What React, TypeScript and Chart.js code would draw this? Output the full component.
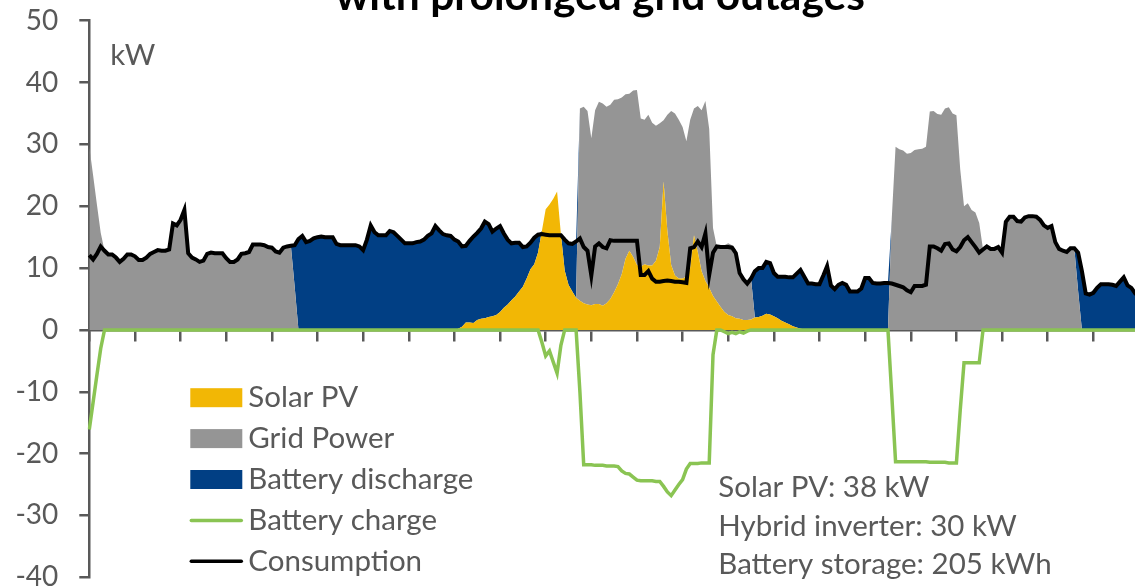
import React, { useEffect, useRef } from "react";
import { Chart, registerables } from "chart.js";

Chart.register(...registerables);

// 5-minute steps over one day (289 points, 00:00 .. 24:00)
const timeLabels: string[] = [];
for (let h = 0; h <= 24; h++) {
  for (let m = 0; m < 60; m += 5) {
    if (h === 24 && m > 0) break;
    timeLabels.push(`${h}:${m < 10 ? "0" + m : m}`);
  }
}

const consumption: number[] = [
  12.1, 11.4, 12.3, 13.5, 12.8, 12.2, 12.2, 11.7, 11.0, 11.5, 12.2, 12.2,
  11.9, 11.3, 11.3, 11.7, 12.3, 12.6, 12.9, 12.8, 12.8, 13.0, 17.2, 16.9,
  17.8, 19.4, 12.4, 11.7, 11.4, 11.0, 11.2, 12.3, 12.5, 12.4, 12.4, 12.4,
  11.6, 11.0, 11.0, 11.4, 12.3, 12.4, 12.6, 13.8, 13.8, 13.8, 13.7, 13.4,
  13.3, 12.7, 12.5, 13.3, 13.5, 13.6, 13.7, 14.7, 15.2, 14.2, 14.4, 14.8,
  15.0, 15.1, 15.0, 15.0, 15.0, 13.9, 13.7, 13.7, 13.7, 13.7, 13.7, 13.5,
  12.9, 14.6, 16.9, 15.8, 15.3, 15.3, 15.3, 16.0, 15.8, 15.2, 14.6, 14.0,
  14.0, 14.0, 14.2, 14.3, 14.6, 15.2, 15.6, 16.8, 16.1, 15.5, 15.3, 15.2,
  14.6, 14.3, 13.5, 13.6, 14.4, 15.1, 15.7, 16.4, 17.5, 17.1, 15.9, 16.4,
  16.8, 15.6, 14.6, 14.0, 14.1, 14.1, 13.4, 13.5, 14.1, 14.9, 15.4, 15.5,
  15.4, 15.3, 15.3, 15.3, 15.3, 14.6, 14.0, 13.9, 14.3, 14.8, 13.4, 12.8,
  8.8, 13.5, 14.0, 13.4, 13.2, 14.5, 14.4, 14.4, 14.4, 14.4, 14.4, 14.4,
  14.4, 8.9, 8.9, 9.5, 8.3, 7.8, 7.8, 7.9, 8.0, 7.9, 7.8, 7.8,
  7.7, 7.6, 13.2, 13.4, 14.3, 13.4, 15.6, 8.9, 12.5, 13.5, 13.4, 13.4,
  13.4, 13.3, 12.4, 9.2, 8.2, 7.5, 8.3, 9.5, 10.0, 10.0, 11.0, 10.8,
  9.2, 8.6, 8.6, 8.6, 8.5, 8.5, 9.1, 9.7, 8.6, 7.5, 7.5, 7.4,
  7.4, 8.8, 10.3, 7.2, 6.6, 7.3, 7.6, 7.3, 6.2, 6.2, 6.2, 6.7,
  8.4, 8.4, 7.6, 7.5, 7.5, 7.6, 7.6, 7.5, 7.3, 7.1, 6.9, 6.4,
  6.1, 7.1, 7.1, 7.1, 7.3, 13.5, 13.5, 13.2, 12.8, 13.9, 14.0, 13.0,
  12.7, 13.4, 14.5, 15.0, 14.2, 13.4, 12.5, 13.0, 13.5, 13.1, 13.1, 13.4,
  12.5, 17.5, 18.3, 18.3, 17.6, 17.5, 18.2, 18.4, 18.4, 18.3, 17.8, 16.9,
  16.5, 16.8, 14.2, 13.1, 12.8, 12.6, 13.2, 13.2, 12.5, 9.5, 5.9, 5.7,
  6.0, 6.8, 7.4, 7.4, 7.4, 7.3, 7.1, 7.8, 8.5, 7.2, 6.8, 5.9,
  6.0, 6.3, 6.5, 6.8, 7.0, 6.9, 6.7, 6.6, 6.8, 7.0, 6.9, 6.8,
  6.7,
];

const solarPV: number[] = [
  0, 0, 0, 0, 0, 0, 0, 0, 0, 0, 0, 0,
  0, 0, 0, 0, 0, 0, 0, 0, 0, 0, 0, 0,
  0, 0, 0, 0, 0, 0, 0, 0, 0, 0, 0, 0,
  0, 0, 0, 0, 0, 0, 0, 0, 0, 0, 0, 0,
  0, 0, 0, 0, 0, 0, 0, 0, 0, 0, 0, 0,
  0, 0, 0, 0, 0, 0, 0, 0, 0, 0, 0, 0,
  0, 0, 0, 0, 0, 0, 0, 0, 0, 0, 0, 0,
  0, 0, 0, 0, 0, 0, 0, 0, 0, 0, 0, 0,
  0.0, 0.2, 0.5, 1.2, 1.2, 1.1, 1.6, 1.8, 1.9, 2.1, 2.2, 2.4,
  2.9, 3.6, 4.1, 4.8, 5.4, 6.2, 7.0, 8.3, 9.8, 10.6, 12.5, 16.0,
  19.5, 20.3, 21.2, 22.4, 15.5, 9.6, 7.3, 6.2, 5.2, 4.7, 4.3, 4.1,
  4.0, 4.2, 4.2, 3.9, 4.3, 5.0, 6.1, 7.4, 9.0, 11.5, 12.8, 11.8,
  10.5, 10.2, 10.6, 10.4, 10.4, 11.2, 13.4, 24.0, 16.0, 10.5, 8.8, 8.3,
  8.3, 8.6, 10.0, 15.3, 12.6, 9.5, 7.9, 6.8, 5.5, 4.6, 3.7, 2.9,
  2.4, 2.2, 1.9, 1.8, 1.6, 1.6, 1.7, 2.0, 2.1, 2.3, 2.6, 2.5,
  2.2, 1.9, 1.5, 1.2, 0.9, 0.6, 0.4, 0.2, 0.1, 0, 0, 0,
  0, 0, 0, 0, 0, 0, 0, 0, 0, 0, 0, 0,
  0, 0, 0, 0, 0, 0, 0, 0, 0, 0, 0, 0,
  0, 0, 0, 0, 0, 0, 0, 0, 0, 0, 0, 0,
  0, 0, 0, 0, 0, 0, 0, 0, 0, 0, 0, 0,
  0, 0, 0, 0, 0, 0, 0, 0, 0, 0, 0, 0,
  0, 0, 0, 0, 0, 0, 0, 0, 0, 0, 0, 0,
  0, 0, 0, 0, 0, 0, 0, 0, 0, 0, 0, 0,
  0, 0, 0, 0, 0, 0, 0, 0, 0, 0, 0, 0,
  0,
];

const gridPower: number[] = [
  29.6, 25.0, 20.3, 15.7, 12.8, 12.2, 12.2, 11.7, 11.0, 11.5, 12.2, 12.2,
  11.9, 11.3, 11.3, 11.7, 12.3, 12.6, 12.9, 12.8, 12.8, 13.0, 17.2, 16.9,
  17.8, 19.4, 12.4, 11.7, 11.4, 11.0, 11.2, 12.3, 12.5, 12.4, 12.4, 12.4,
  11.6, 11.0, 11.0, 11.4, 12.3, 12.4, 12.6, 13.8, 13.8, 13.8, 13.7, 13.4,
  13.3, 12.7, 12.5, 13.3, 13.5, 13.6, 7.0, 0, 0, 0, 0, 0,
  0, 0, 0, 0, 0, 0, 0, 0, 0, 0, 0, 0,
  0, 0, 0, 0, 0, 0, 0, 0, 0, 0, 0, 0,
  0, 0, 0, 0, 0, 0, 0, 0, 0, 0, 0, 0,
  0, 0, 0, 0, 0, 0, 0, 0, 0, 0, 0, 0,
  0, 0, 0, 0, 0, 0, 0, 0, 0, 0, 0, 0,
  0, 0, 0, 0, 0, 0, 0, 0, 0, 31.1, 31.8, 31.3,
  27.0, 31.3, 32.7, 32.7, 31.8, 31.4, 31.1, 29.9, 28.6, 26.6, 25.4, 26.9,
  28.3, 24.0, 23.4, 24.4, 23.1, 21.8, 20.0, 9.9, 18.8, 24.9, 26.2, 25.7,
  24.5, 21.9, 24.0, 20.5, 23.6, 26.0, 29.1, 25.7, 11.0, 8.9, 9.7, 10.8,
  11.6, 11.5, 11.1, 7.7, 7.1, 6.1, 6.6, 0, 0, 0, 0, 0,
  0, 0, 0, 0, 0, 0, 0, 0, 0, 0, 0, 0,
  0, 0, 0, 0, 0, 0, 0, 0, 0, 0, 0, 0,
  0, 0, 0, 0, 0, 0, 0, 18.0, 29.6, 29.2, 29.0, 28.5,
  28.6, 29.1, 29.2, 29.3, 29.6, 35.3, 35.4, 34.9, 34.8, 35.8, 36.0, 35.0,
  34.7, 26.0, 20.0, 20.5, 19.4, 19.0, 17.3, 13.0, 13.5, 13.1, 13.1, 13.4,
  12.5, 17.5, 18.3, 18.3, 17.6, 17.5, 18.2, 18.4, 18.4, 18.3, 17.8, 16.9,
  16.5, 16.8, 14.2, 13.1, 12.8, 12.6, 13.2, 13.2, 6.3, 0, 0, 0,
  0, 0, 0, 0, 0, 0, 0, 0, 0, 0, 0, 0,
  0, 0, 0, 0, 0, 0, 0, 0, 0, 0, 0, 0,
  0,
];

const batteryDischarge: number[] = [
  0, 0, 0, 0, 0, 0, 0, 0, 0, 0, 0, 0,
  0, 0, 0, 0, 0, 0, 0, 0, 0, 0, 0, 0,
  0, 0, 0, 0, 0, 0, 0, 0, 0, 0, 0, 0,
  0, 0, 0, 0, 0, 0, 0, 0, 0, 0, 0, 0,
  0, 0, 0, 0, 0, 0, 6.7, 14.7, 15.2, 14.2, 14.4, 14.8,
  15.0, 15.1, 15.0, 15.0, 15.0, 13.9, 13.7, 13.7, 13.7, 13.7, 13.7, 13.5,
  12.9, 14.6, 16.9, 15.8, 15.3, 15.3, 15.3, 16.0, 15.8, 15.2, 14.6, 14.0,
  14.0, 14.0, 14.2, 14.3, 14.6, 15.2, 15.6, 16.8, 16.1, 15.5, 15.3, 15.2,
  14.6, 14.1, 13.0, 12.4, 13.2, 14.0, 14.1, 14.6, 15.6, 15.0, 13.7, 14.0,
  13.9, 12.0, 10.5, 9.2, 8.7, 7.9, 6.4, 5.2, 4.3, 4.3, 2.9, 0,
  0, 0, 0, 0, 0, 5.0, 6.7, 7.7, 9.1, 0, 0, 0,
  0, 0, 0, 0, 0, 0, 0, 0, 0, 0, 0, 0,
  0, 0, 0, 0, 0, 0, 0, 0, 0, 0, 0, 0,
  0, 0, 0, 0, 0, 0, 0, 0, 0, 0, 0, 0,
  0, 0, 0, 0, 0, 0, 0, 7.5, 7.9, 7.7, 8.4, 8.3,
  7.0, 6.7, 7.1, 7.4, 7.6, 7.9, 8.7, 9.5, 8.5, 7.5, 7.5, 7.4,
  7.4, 8.8, 10.3, 7.2, 6.6, 7.3, 7.6, 7.3, 6.2, 6.2, 6.2, 6.7,
  8.4, 8.4, 7.6, 7.5, 7.5, 7.6, 7.6, 0, 0, 0, 0, 0,
  0, 0, 0, 0, 0, 0, 0, 0, 0, 0, 0, 0,
  0, 0, 0, 0, 0, 0, 0, 0, 0, 0, 0, 0,
  0, 0, 0, 0, 0, 0, 0, 0, 0, 0, 0, 0,
  0, 0, 0, 0, 0, 0, 0, 0, 6.2, 9.5, 5.9, 5.7,
  6.0, 6.8, 7.4, 7.4, 7.4, 7.3, 7.1, 7.8, 8.5, 7.2, 6.8, 5.9,
  6.0, 6.3, 6.5, 6.8, 7.0, 6.9, 6.7, 6.6, 6.8, 7.0, 6.9, 6.8,
  6.7,
];

const batteryCharge: number[] = [
  -16.1, -11.7, -7.3, -3.0, 0, 0, 0, 0, 0, 0, 0, 0,
  0, 0, 0, 0, 0, 0, 0, 0, 0, 0, 0, 0,
  0, 0, 0, 0, 0, 0, 0, 0, 0, 0, 0, 0,
  0, 0, 0, 0, 0, 0, 0, 0, 0, 0, 0, 0,
  0, 0, 0, 0, 0, 0, 0, 0, 0, 0, 0, 0,
  0, 0, 0, 0, 0, 0, 0, 0, 0, 0, 0, 0,
  0, 0, 0, 0, 0, 0, 0, 0, 0, 0, 0, 0,
  0, 0, 0, 0, 0, 0, 0, 0, 0, 0, 0, 0,
  0, 0, 0, 0, 0, 0, 0, 0, 0, 0, 0, 0,
  0, 0, 0, 0, 0, 0, 0, 0, 0, 0, 0, -2.0,
  -4.2, -3.4, -5.2, -7.0, -2.5, 0, 0, 0, 0, -10.0, -21.8, -21.8,
  -21.8, -21.9, -21.9, -21.9, -22.0, -22.0, -22.0, -22.1, -22.8, -23.2, -23.3, -23.8,
  -24.3, -24.4, -24.4, -24.4, -24.4, -24.5, -24.5, -25.3, -26.2, -26.8, -25.9, -25.0,
  -24.2, -22.5, -21.6, -21.6, -21.6, -21.5, -21.5, -21.5, -4.0, 0, 0, -0.3,
  -0.6, -0.4, -0.6, -0.3, -0.5, -0.2, 0, 0, 0, 0, 0, 0,
  0, 0, 0, 0, 0, 0, 0, 0, 0, 0, 0, 0,
  0, 0, 0, 0, 0, 0, 0, 0, 0, 0, 0, 0,
  0, 0, 0, 0, 0, 0, 0, -10.5, -21.3, -21.3, -21.3, -21.3,
  -21.3, -21.3, -21.3, -21.3, -21.3, -21.4, -21.4, -21.4, -21.4, -21.4, -21.5, -21.5,
  -21.5, -13.0, -5.3, -5.3, -5.3, -5.3, -5.3, 0, 0, 0, 0, 0,
  0, 0, 0, 0, 0, 0, 0, 0, 0, 0, 0, 0,
  0, 0, 0, 0, 0, 0, 0, 0, 0, 0, 0, 0,
  0, 0, 0, 0, 0, 0, 0, 0, 0, 0, 0, 0,
  0, 0, 0, 0, 0, 0, 0, 0, 0, 0, 0, 0,
  0,
];

const yTickMin = -40;
const yTickMax = 50;
const yTickStep = 10;

const TITLE = "with prolonged grid outages";
const UNIT = "kW";
const NOTES = ["Solar PV: 38 kW", "Hybrid inverter: 30 kW", "Battery storage: 205 kWh"];

const COLORS = {
  solar: "#F2B705",
  grid: "#959595",
  battery: "#013F84",
  charge: "#8AC453",
  consumption: "#000000",
  text: "#595959",
  axis: "#595959",
};

const FONT = "Lato";
const TEXT_SIZE = 29.5;

const overlayPlugin = {
  id: "overlay",
  afterDraw(chart: any) {
    const { ctx, chartArea } = chart;
    const left = chartArea.left;
    const top = chartArea.top;
    ctx.save();

    // title (its upper part lies outside the view)
    ctx.fillStyle = "#000000";
    ctx.font = `bold 42.5px ${FONT}`;
    ctx.textAlign = "center";
    ctx.textBaseline = "alphabetic";
    ctx.fillText(TITLE, chart.width / 2, top - 11);

    // unit
    ctx.fillStyle = COLORS.text;
    ctx.font = `${TEXT_SIZE}px ${FONT}`;
    ctx.textAlign = "left";
    ctx.fillText(UNIT, left + 21, top + 44);

    // legend
    const lx = left + 101;
    const ly0 = top + 377;
    const step = 40.9;
    chart.data.datasets.forEach((ds: any, k: number) => {
      const yc = ly0 + k * step;
      if (ds.fill !== false) {
        ctx.fillStyle = ds.backgroundColor;
        ctx.fillRect(lx, yc - 9.5, 52, 19);
      } else {
        ctx.strokeStyle = ds.borderColor;
        ctx.lineWidth = 3.5;
        ctx.lineCap = "round";
        ctx.beginPath();
        ctx.moveTo(lx + 1, yc);
        ctx.lineTo(lx + 51, yc);
        ctx.stroke();
      }
      ctx.fillStyle = COLORS.text;
      ctx.font = `${TEXT_SIZE}px ${FONT}`;
      ctx.textAlign = "left";
      ctx.fillText(ds.label, lx + 58, yc + 9.6);
    });

    // notes
    NOTES.forEach((t, k) => {
      ctx.fillText(t, left + 629, top + 476.5 + k * 38.5);
    });

    ctx.restore();
  },
};

export default function App() {
  const ref = useRef<HTMLCanvasElement>(null);

  useEffect(() => {
    document.body.style.margin = "0";
    Chart.defaults.font.family = FONT;
    const common = { pointRadius: 0, pointHoverRadius: 0, tension: 0 };
    const chart = new Chart(ref.current as HTMLCanvasElement, {
      type: "line",
      data: {
        labels: timeLabels,
        datasets: [
          {
            label: "Solar PV",
            data: solarPV,
            backgroundColor: COLORS.solar,
            borderColor: "rgba(0,0,0,0)",
            borderWidth: 0,
            fill: "origin",
            stack: "supply",
            order: 2,
            ...common,
          },
          {
            label: "Grid Power",
            data: gridPower,
            backgroundColor: COLORS.grid,
            borderColor: "rgba(0,0,0,0)",
            borderWidth: 0,
            fill: "-1",
            stack: "supply",
            order: 3,
            ...common,
          },
          {
            label: "Battery discharge",
            data: batteryDischarge,
            backgroundColor: COLORS.battery,
            borderColor: "rgba(0,0,0,0)",
            borderWidth: 0,
            fill: "-1",
            stack: "supply",
            order: 4,
            ...common,
          },
          {
            label: "Battery charge",
            data: batteryCharge,
            borderColor: COLORS.charge,
            backgroundColor: COLORS.charge,
            borderWidth: 3.5,
            fill: false,
            stack: "charge",
            order: 1,
            ...common,
          },
          {
            label: "Consumption",
            data: consumption,
            borderColor: COLORS.consumption,
            backgroundColor: COLORS.consumption,
            borderWidth: 4,
            fill: false,
            stack: "consumption",
            order: 0,
            ...common,
          },
        ] as any,
      },
      options: {
        responsive: false,
        maintainAspectRatio: false,
        devicePixelRatio: 1,
        animation: false,
        layout: { padding: { left: 0, right: 15.4, top: 20.7, bottom: 42.7 } },
        plugins: {
          legend: { display: false },
          tooltip: { enabled: false },
          title: { display: false },
        },
        scales: {
          x: {
            type: "category",
            position: { y: 0 } as any,
            offset: false,
            grid: {
              drawOnChartArea: false,
              drawTicks: true,
              tickLength: 10,
              lineWidth: 2.5,
              offset: false,
              color: (c: any) => (c.index % 12 === 0 ? COLORS.axis : "rgba(0,0,0,0)"),
            },
            border: { display: true, color: COLORS.axis, width: 2.5 },
            ticks: { display: false, autoSkip: false },
          },
          y: {
            stacked: true,
            min: yTickMin,
            max: yTickMax,
            ticks: {
              stepSize: yTickStep,
              color: COLORS.text,
              font: { family: FONT, size: 28 },
              padding: 21,
            },
            grid: {
              drawOnChartArea: false,
              drawTicks: true,
              tickLength: 10,
              lineWidth: 2.5,
              color: COLORS.axis,
            },
            border: { display: true, color: COLORS.axis, width: 2.5 },
            afterFit: (s: any) => {
              s.width = 89.3;
              s.paddingTop = 0;
              s.paddingBottom = 0;
            },
          },
        },
      } as any,
      plugins: [overlayPlugin],
    });
    return () => chart.destroy();
  }, []);

  return (
    <div
      style={{
        position: "fixed",
        left: 0,
        top: 0,
        width: 1135,
        height: 587,
        overflow: "hidden",
        background: "#ffffff",
      }}
    >
      <canvas ref={ref} width={1200} height={620} style={{ display: "block", width: 1200, height: 620 }} />
    </div>
  );
}
